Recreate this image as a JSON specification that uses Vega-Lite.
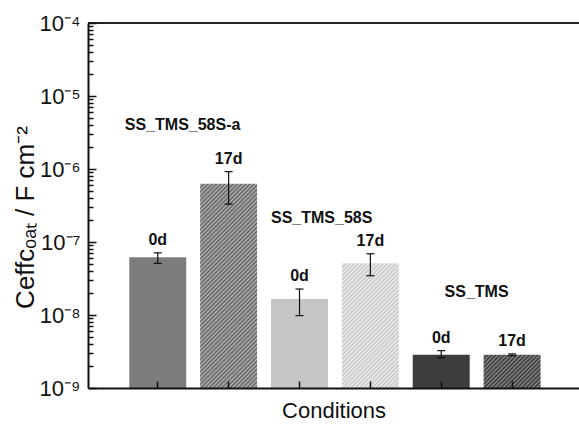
{
 "$schema": "https://vega.github.io/schema/vega-lite/v6.json",
 "width": 491,
 "height": 365,
 "autosize": "none",
 "padding": {"left": 88, "top": 23, "right": 0, "bottom": 36},
 "config": {"font": "Liberation Sans", "view": {"stroke": null}},
 "datasets": {
  "bars": [
   {"cond": "58S-a 0d", "day": "0d", "value": 6.2e-8, "lo": 5.1e-8, "hi": 7.1e-8, "hatch": false},
   {"cond": "58S-a 17d", "day": "17d", "value": 6.3e-7, "lo": 3.3e-7, "hi": 9.2e-7, "hatch": true},
   {"cond": "58S 0d", "day": "0d", "value": 1.65e-8, "lo": 9.8e-9, "hi": 2.27e-8, "hatch": false},
   {"cond": "58S 17d", "day": "17d", "value": 5.1e-8, "lo": 3.45e-8, "hi": 6.9e-8, "hatch": true},
   {"cond": "TMS 0d", "day": "0d", "value": 2.85e-9, "lo": 2.6e-9, "hi": 3.25e-9, "hatch": false},
   {"cond": "TMS 17d", "day": "17d", "value": 2.85e-9, "lo": 2.78e-9, "hi": 2.93e-9, "hatch": true}
  ]
 },
 "layer": [
  {
   "data": {"name": "bars"},
   "transform": [{"filter": "!datum.hatch"}],
   "mark": {"type": "bar"},
   "encoding": {
    "x": {"field": "cond", "type": "nominal",
     "scale": {"domain": ["58S-a 0d", "58S-a 17d", "58S 0d", "58S 17d", "TMS 0d", "TMS 17d"], "paddingInner": 0.196, "paddingOuter": 0.5624, "align": 0.518},
     "axis": {"orient": "bottom", "labels": false, "ticks": true, "tickSize": -7, "tickColor": "#111", "tickWidth": 1.5, "domainColor": "#111", "domainWidth": 2, "zindex": 1, "bandPosition": 0.5,
      "title": "Conditions", "titleFontSize": 22, "titleFontWeight": "normal", "titleColor": "#111", "titlePadding": 12}},
    "y": {"field": "value", "type": "quantitative", "title": "Ceffcₒₐₜ / F cm⁻²",
     "scale": {"type": "log", "domain": [1e-9, 1e-4], "nice": false},
     "axis": {
      "orient": "left",
      "values": [1e-9,2e-9,3e-9,4e-9,5e-9,6e-9,7e-9,8e-9,9e-9,1e-8,2e-8,3e-8,4e-8,5e-8,6e-8,7e-8,8e-8,9e-8,1e-7,2e-7,3e-7,4e-7,5e-7,6e-7,7e-7,8e-7,9e-7,1e-6,2e-6,3e-6,4e-6,5e-6,6e-6,7e-6,8e-6,9e-6,1e-5,2e-5,3e-5,4e-5,5e-5,6e-5,7e-5,8e-5,9e-5,1e-4],
      "labelExpr": "abs(datum.value/1e-4-1)<0.01?'10⁻⁴':abs(datum.value/1e-5-1)<0.01?'10⁻⁵':abs(datum.value/1e-6-1)<0.01?'10⁻⁶':abs(datum.value/1e-7-1)<0.01?'10⁻⁷':abs(datum.value/1e-8-1)<0.01?'10⁻⁸':abs(datum.value/1e-9-1)<0.01?'10⁻⁹':''",
      "ticks": true, "tickSize": -8, "tickColor": "#111", "tickWidth": 1.5,
      "tickDash": {"condition": {"test": "abs(log(datum.value)/LN10 - round(log(datum.value)/LN10)) < 0.001", "value": [10, 0]}, "value": [5, 30]},
      "grid": false,
      "domainColor": "#111", "domainWidth": 2, "zindex": 1,
      "labelFontSize": 22, "labelColor": "#111", "labelPadding": 16, "labelOverlap": false, "labelFlush": false,
      "titleFontSize": 26, "titleFontWeight": "normal", "titleColor": "#111", "titleAngle": -90, "titleAlign": "center", "titleBaseline": "alphabetic", "titleX": -55, "titleY": 194
     }},
    "y2": {"datum": 1e-9},
    "color": {"field": "cond", "type": "nominal", "scale": {"domain": ["58S-a 0d", "58S 0d", "TMS 0d"], "range": ["#7c7c7c", "#c6c6c6", "#3d3d3d"]}, "legend": null}
   }
  },
  {
   "data": {"name": "bars"},
   "transform": [{"filter": "datum.cond == '58S-a 17d'"}],
   "mark": {"type": "bar", "fill": {"gradient": "linear", "x1": 0, "y1": 0, "x2": 0.331, "y2": 1.1866, "stops": [
{"offset":0,"color":"#5c5c5c"},{"offset":0.008,"color":"#b8b8b8"},{"offset":0.016,"color":"#5c5c5c"},{"offset":0.024,"color":"#b8b8b8"},{"offset":0.032,"color":"#5c5c5c"},{"offset":0.04,"color":"#b8b8b8"},{"offset":0.048,"color":"#5c5c5c"},{"offset":0.056,"color":"#b8b8b8"},{"offset":0.064,"color":"#5c5c5c"},{"offset":0.072,"color":"#b8b8b8"},
{"offset":0.08,"color":"#5c5c5c"},{"offset":0.088,"color":"#b8b8b8"},{"offset":0.096,"color":"#5c5c5c"},{"offset":0.104,"color":"#b8b8b8"},{"offset":0.112,"color":"#5c5c5c"},{"offset":0.12,"color":"#b8b8b8"},{"offset":0.128,"color":"#5c5c5c"},{"offset":0.136,"color":"#b8b8b8"},{"offset":0.144,"color":"#5c5c5c"},{"offset":0.152,"color":"#b8b8b8"},
{"offset":0.16,"color":"#5c5c5c"},{"offset":0.168,"color":"#b8b8b8"},{"offset":0.176,"color":"#5c5c5c"},{"offset":0.184,"color":"#b8b8b8"},{"offset":0.192,"color":"#5c5c5c"},{"offset":0.2,"color":"#b8b8b8"},{"offset":0.208,"color":"#5c5c5c"},{"offset":0.216,"color":"#b8b8b8"},{"offset":0.224,"color":"#5c5c5c"},{"offset":0.232,"color":"#b8b8b8"},
{"offset":0.24,"color":"#5c5c5c"},{"offset":0.248,"color":"#b8b8b8"},{"offset":0.256,"color":"#5c5c5c"},{"offset":0.264,"color":"#b8b8b8"},{"offset":0.272,"color":"#5c5c5c"},{"offset":0.28,"color":"#b8b8b8"},{"offset":0.288,"color":"#5c5c5c"},{"offset":0.296,"color":"#b8b8b8"},{"offset":0.304,"color":"#5c5c5c"},{"offset":0.312,"color":"#b8b8b8"},
{"offset":0.32,"color":"#5c5c5c"},{"offset":0.328,"color":"#b8b8b8"},{"offset":0.336,"color":"#5c5c5c"},{"offset":0.344,"color":"#b8b8b8"},{"offset":0.352,"color":"#5c5c5c"},{"offset":0.36,"color":"#b8b8b8"},{"offset":0.368,"color":"#5c5c5c"},{"offset":0.376,"color":"#b8b8b8"},{"offset":0.384,"color":"#5c5c5c"},{"offset":0.392,"color":"#b8b8b8"},
{"offset":0.4,"color":"#5c5c5c"},{"offset":0.408,"color":"#b8b8b8"},{"offset":0.416,"color":"#5c5c5c"},{"offset":0.424,"color":"#b8b8b8"},{"offset":0.432,"color":"#5c5c5c"},{"offset":0.44,"color":"#b8b8b8"},{"offset":0.448,"color":"#5c5c5c"},{"offset":0.456,"color":"#b8b8b8"},{"offset":0.464,"color":"#5c5c5c"},{"offset":0.472,"color":"#b8b8b8"},
{"offset":0.48,"color":"#5c5c5c"},{"offset":0.488,"color":"#b8b8b8"},{"offset":0.496,"color":"#5c5c5c"},{"offset":0.504,"color":"#b8b8b8"},{"offset":0.512,"color":"#5c5c5c"},{"offset":0.52,"color":"#b8b8b8"},{"offset":0.528,"color":"#5c5c5c"},{"offset":0.536,"color":"#b8b8b8"},{"offset":0.544,"color":"#5c5c5c"},{"offset":0.552,"color":"#b8b8b8"},
{"offset":0.56,"color":"#5c5c5c"},{"offset":0.568,"color":"#b8b8b8"},{"offset":0.576,"color":"#5c5c5c"},{"offset":0.584,"color":"#b8b8b8"},{"offset":0.592,"color":"#5c5c5c"},{"offset":0.6,"color":"#b8b8b8"},{"offset":0.608,"color":"#5c5c5c"},{"offset":0.616,"color":"#b8b8b8"},{"offset":0.624,"color":"#5c5c5c"},{"offset":0.632,"color":"#b8b8b8"},
{"offset":0.64,"color":"#5c5c5c"},{"offset":0.648,"color":"#b8b8b8"},{"offset":0.656,"color":"#5c5c5c"},{"offset":0.664,"color":"#b8b8b8"},{"offset":0.672,"color":"#5c5c5c"},{"offset":0.68,"color":"#b8b8b8"},{"offset":0.688,"color":"#5c5c5c"},{"offset":0.696,"color":"#b8b8b8"},{"offset":0.704,"color":"#5c5c5c"},{"offset":0.712,"color":"#b8b8b8"},
{"offset":0.72,"color":"#5c5c5c"},{"offset":0.728,"color":"#b8b8b8"},{"offset":0.736,"color":"#5c5c5c"},{"offset":0.744,"color":"#b8b8b8"},{"offset":0.752,"color":"#5c5c5c"},{"offset":0.76,"color":"#b8b8b8"},{"offset":0.768,"color":"#5c5c5c"},{"offset":0.776,"color":"#b8b8b8"},{"offset":0.784,"color":"#5c5c5c"},{"offset":0.792,"color":"#b8b8b8"},
{"offset":0.8,"color":"#5c5c5c"},{"offset":0.808,"color":"#b8b8b8"},{"offset":0.816,"color":"#5c5c5c"},{"offset":0.824,"color":"#b8b8b8"},{"offset":0.832,"color":"#5c5c5c"},{"offset":0.84,"color":"#b8b8b8"},{"offset":0.848,"color":"#5c5c5c"},{"offset":0.856,"color":"#b8b8b8"},{"offset":0.864,"color":"#5c5c5c"},{"offset":0.872,"color":"#b8b8b8"},
{"offset":0.88,"color":"#5c5c5c"},{"offset":0.888,"color":"#b8b8b8"},{"offset":0.896,"color":"#5c5c5c"},{"offset":0.904,"color":"#b8b8b8"},{"offset":0.912,"color":"#5c5c5c"},{"offset":0.92,"color":"#b8b8b8"},{"offset":0.928,"color":"#5c5c5c"},{"offset":0.936,"color":"#b8b8b8"},{"offset":0.944,"color":"#5c5c5c"},{"offset":0.952,"color":"#b8b8b8"},
{"offset":0.96,"color":"#5c5c5c"},{"offset":0.968,"color":"#b8b8b8"},{"offset":0.976,"color":"#5c5c5c"},{"offset":0.984,"color":"#b8b8b8"},{"offset":0.992,"color":"#5c5c5c"},{"offset":1,"color":"#b8b8b8"}
   ]}},
   "encoding": {
    "x": {"field": "cond", "type": "nominal"},
    "y": {"field": "value", "type": "quantitative", "title": "Ceffcₒₐₜ / F cm⁻²"},
    "y2": {"datum": 1e-9}
   }
  },
  {
   "data": {"name": "bars"},
   "transform": [{"filter": "datum.cond == '58S 17d'"}],
   "mark": {"type": "bar", "fill": {"gradient": "linear", "x1": 0, "y1": 0, "x2": 0.5511, "y2": 1.2052, "stops": [
{"offset":0,"color":"#c2c2c2"},{"offset":0.0115,"color":"#f2f2f2"},{"offset":0.023,"color":"#c2c2c2"},{"offset":0.0345,"color":"#f2f2f2"},{"offset":0.046,"color":"#c2c2c2"},{"offset":0.0575,"color":"#f2f2f2"},{"offset":0.069,"color":"#c2c2c2"},{"offset":0.0805,"color":"#f2f2f2"},{"offset":0.092,"color":"#c2c2c2"},{"offset":0.1035,"color":"#f2f2f2"},
{"offset":0.115,"color":"#c2c2c2"},{"offset":0.1265,"color":"#f2f2f2"},{"offset":0.138,"color":"#c2c2c2"},{"offset":0.1495,"color":"#f2f2f2"},{"offset":0.161,"color":"#c2c2c2"},{"offset":0.1725,"color":"#f2f2f2"},{"offset":0.184,"color":"#c2c2c2"},{"offset":0.1955,"color":"#f2f2f2"},{"offset":0.207,"color":"#c2c2c2"},{"offset":0.2185,"color":"#f2f2f2"},
{"offset":0.23,"color":"#c2c2c2"},{"offset":0.2415,"color":"#f2f2f2"},{"offset":0.253,"color":"#c2c2c2"},{"offset":0.2645,"color":"#f2f2f2"},{"offset":0.276,"color":"#c2c2c2"},{"offset":0.2875,"color":"#f2f2f2"},{"offset":0.299,"color":"#c2c2c2"},{"offset":0.3105,"color":"#f2f2f2"},{"offset":0.322,"color":"#c2c2c2"},{"offset":0.3335,"color":"#f2f2f2"},
{"offset":0.345,"color":"#c2c2c2"},{"offset":0.3565,"color":"#f2f2f2"},{"offset":0.368,"color":"#c2c2c2"},{"offset":0.3795,"color":"#f2f2f2"},{"offset":0.391,"color":"#c2c2c2"},{"offset":0.4025,"color":"#f2f2f2"},{"offset":0.414,"color":"#c2c2c2"},{"offset":0.4255,"color":"#f2f2f2"},{"offset":0.437,"color":"#c2c2c2"},{"offset":0.4485,"color":"#f2f2f2"},
{"offset":0.46,"color":"#c2c2c2"},{"offset":0.4715,"color":"#f2f2f2"},{"offset":0.483,"color":"#c2c2c2"},{"offset":0.4945,"color":"#f2f2f2"},{"offset":0.506,"color":"#c2c2c2"},{"offset":0.5175,"color":"#f2f2f2"},{"offset":0.529,"color":"#c2c2c2"},{"offset":0.5405,"color":"#f2f2f2"},{"offset":0.552,"color":"#c2c2c2"},{"offset":0.5635,"color":"#f2f2f2"},
{"offset":0.575,"color":"#c2c2c2"},{"offset":0.5865,"color":"#f2f2f2"},{"offset":0.598,"color":"#c2c2c2"},{"offset":0.6095,"color":"#f2f2f2"},{"offset":0.621,"color":"#c2c2c2"},{"offset":0.6325,"color":"#f2f2f2"},{"offset":0.644,"color":"#c2c2c2"},{"offset":0.6555,"color":"#f2f2f2"},{"offset":0.667,"color":"#c2c2c2"},{"offset":0.6785,"color":"#f2f2f2"},
{"offset":0.69,"color":"#c2c2c2"},{"offset":0.7015,"color":"#f2f2f2"},{"offset":0.713,"color":"#c2c2c2"},{"offset":0.7245,"color":"#f2f2f2"},{"offset":0.736,"color":"#c2c2c2"},{"offset":0.7475,"color":"#f2f2f2"},{"offset":0.759,"color":"#c2c2c2"},{"offset":0.7705,"color":"#f2f2f2"},{"offset":0.782,"color":"#c2c2c2"},{"offset":0.7935,"color":"#f2f2f2"},
{"offset":0.805,"color":"#c2c2c2"},{"offset":0.8165,"color":"#f2f2f2"},{"offset":0.828,"color":"#c2c2c2"},{"offset":0.8395,"color":"#f2f2f2"},{"offset":0.851,"color":"#c2c2c2"},{"offset":0.8625,"color":"#f2f2f2"},{"offset":0.874,"color":"#c2c2c2"},{"offset":0.8855,"color":"#f2f2f2"},{"offset":0.897,"color":"#c2c2c2"},{"offset":0.9085,"color":"#f2f2f2"},
{"offset":0.92,"color":"#c2c2c2"},{"offset":0.9315,"color":"#f2f2f2"},{"offset":0.943,"color":"#c2c2c2"},{"offset":0.9545,"color":"#f2f2f2"},{"offset":0.966,"color":"#c2c2c2"},{"offset":0.9775,"color":"#f2f2f2"},{"offset":0.989,"color":"#c2c2c2"}
   ]}},
   "encoding": {
    "x": {"field": "cond", "type": "nominal"},
    "y": {"field": "value", "type": "quantitative", "title": "Ceffcₒₐₜ / F cm⁻²"},
    "y2": {"datum": 1e-9}
   }
  },
  {
   "data": {"name": "bars"},
   "transform": [{"filter": "datum.cond == 'TMS 17d'"}],
   "mark": {"type": "bar", "fill": {"gradient": "linear", "x1": 0, "y1": 0, "x2": 1.1816, "y2": 0.6882, "stops": [
{"offset":0,"color":"#303030"},{"offset":0.0232,"color":"#8c8c8c"},{"offset":0.0464,"color":"#303030"},{"offset":0.0696,"color":"#8c8c8c"},{"offset":0.0928,"color":"#303030"},{"offset":0.116,"color":"#8c8c8c"},{"offset":0.1392,"color":"#303030"},{"offset":0.1624,"color":"#8c8c8c"},{"offset":0.1856,"color":"#303030"},{"offset":0.2088,"color":"#8c8c8c"},
{"offset":0.232,"color":"#303030"},{"offset":0.2552,"color":"#8c8c8c"},{"offset":0.2784,"color":"#303030"},{"offset":0.3016,"color":"#8c8c8c"},{"offset":0.3248,"color":"#303030"},{"offset":0.348,"color":"#8c8c8c"},{"offset":0.3712,"color":"#303030"},{"offset":0.3944,"color":"#8c8c8c"},{"offset":0.4176,"color":"#303030"},{"offset":0.4408,"color":"#8c8c8c"},
{"offset":0.464,"color":"#303030"},{"offset":0.4872,"color":"#8c8c8c"},{"offset":0.5104,"color":"#303030"},{"offset":0.5336,"color":"#8c8c8c"},{"offset":0.5568,"color":"#303030"},{"offset":0.58,"color":"#8c8c8c"},{"offset":0.6032,"color":"#303030"},{"offset":0.6264,"color":"#8c8c8c"},{"offset":0.6496,"color":"#303030"},{"offset":0.6728,"color":"#8c8c8c"},
{"offset":0.696,"color":"#303030"},{"offset":0.7192,"color":"#8c8c8c"},{"offset":0.7424,"color":"#303030"},{"offset":0.7656,"color":"#8c8c8c"},{"offset":0.7888,"color":"#303030"},{"offset":0.812,"color":"#8c8c8c"},{"offset":0.8352,"color":"#303030"},{"offset":0.8584,"color":"#8c8c8c"},{"offset":0.8816,"color":"#303030"},{"offset":0.9048,"color":"#8c8c8c"},
{"offset":0.928,"color":"#303030"},{"offset":0.9512,"color":"#8c8c8c"},{"offset":0.9744,"color":"#303030"},{"offset":0.9976,"color":"#8c8c8c"}
   ]}},
   "encoding": {
    "x": {"field": "cond", "type": "nominal"},
    "y": {"field": "value", "type": "quantitative", "title": "Ceffcₒₐₜ / F cm⁻²"},
    "y2": {"datum": 1e-9}
   }
  },
  {
   "data": {"name": "bars"},
   "mark": {"type": "rule", "color": "#111", "strokeWidth": 1.2},
   "encoding": {
    "x": {"field": "cond", "type": "nominal"},
    "y": {"field": "lo", "type": "quantitative", "title": "Ceffcₒₐₜ / F cm⁻²"},
    "y2": {"field": "hi"}
   }
  },
  {
   "data": {"name": "bars"},
   "mark": {"type": "rule", "color": "#111", "strokeWidth": 1.2},
   "encoding": {
    "x": {"field": "cond", "type": "nominal", "bandPosition": 0.43},
    "x2": {"field": "cond", "bandPosition": 0.57},
    "y": {"field": "lo", "type": "quantitative", "title": "Ceffcₒₐₜ / F cm⁻²"}
   }
  },
  {
   "data": {"name": "bars"},
   "mark": {"type": "rule", "color": "#111", "strokeWidth": 1.2},
   "encoding": {
    "x": {"field": "cond", "type": "nominal", "bandPosition": 0.43},
    "x2": {"field": "cond", "bandPosition": 0.57},
    "y": {"field": "hi", "type": "quantitative", "title": "Ceffcₒₐₜ / F cm⁻²"}
   }
  },
  {
   "data": {"name": "bars"},
   "mark": {"type": "text", "fontWeight": "bold", "fontSize": 16, "baseline": "alphabetic", "dy": -8, "color": "#111"},
   "encoding": {
    "x": {"field": "cond", "type": "nominal"},
    "y": {"field": "hi", "type": "quantitative", "title": "Ceffcₒₐₜ / F cm⁻²"},
    "text": {"field": "day"}
   }
  },
  {
   "data": {"values": [{"cond": "58S-a 0d"}]},
   "mark": {"type": "text", "fontWeight": "bold", "fontSize": 16, "baseline": "alphabetic", "align": "left", "dx": -4.5, "color": "#111"},
   "encoding": {
    "x": {"field": "cond", "type": "nominal", "bandPosition": 0},
    "y": {"datum": 3.42e-6},
    "text": {"value": "SS_TMS_58S-a"}
   }
  },
  {
   "data": {"values": [{"cond": "58S 0d"}]},
   "mark": {"type": "text", "fontWeight": "bold", "fontSize": 16, "baseline": "alphabetic", "align": "left", "color": "#111"},
   "encoding": {
    "x": {"field": "cond", "type": "nominal", "bandPosition": 0},
    "y": {"datum": 1.82e-7},
    "text": {"value": "SS_TMS_58S"}
   }
  },
  {
   "data": {"values": [{"cond": "TMS 0d"}]},
   "mark": {"type": "text", "fontWeight": "bold", "fontSize": 16, "baseline": "alphabetic", "align": "center", "color": "#111"},
   "encoding": {
    "x": {"field": "cond", "type": "nominal", "bandPosition": 1.12},
    "y": {"datum": 1.78e-8},
    "text": {"value": "SS_TMS"}
   }
  },
  {
   "data": {"values": [{}]},
   "mark": {"type": "rule", "color": "#222", "strokeWidth": 2},
   "encoding": {"y": {"datum": 1e-4}}
  }
 ]
}
